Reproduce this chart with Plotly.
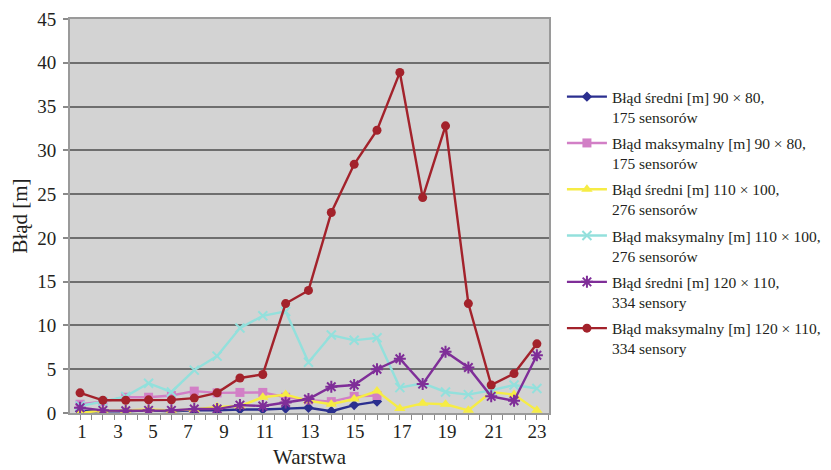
import plotly.graph_objects as go

layers = list(range(1, 22))
tick_labels = ["1", "3", "5", "7", "9", "11", "13", "15", "17", "19", "21", "23"]

mean_90x80 = [0.2, 0.2, 0.2, 0.3, 0.2, 0.3, 0.3, 0.4, 0.4, 0.5, 0.6, 0.2, 0.9, 1.3]
max_90x80 = [1.0, 1.3, 1.8, 1.8, 2.0, 2.5, 2.3, 2.35, 2.35, 1.8, 1.5, 1.3, 1.9, 2.0]
mean_110x100 = [0.0, 0.3, 0.3, 0.4, 0.3, 0.4, 0.7, 0.8, 1.8, 2.1, 1.4, 1.0, 1.6, 2.5,
                0.5, 1.1, 1.0, 0.3, 2.4, 2.1, 0.3]
max_110x100 = [0.8, 1.3, 1.9, 3.4, 2.4, 4.9, 6.5, 9.7, 11.1, 11.6, 5.8, 8.9, 8.3, 8.6,
               2.9, 3.4, 2.4, 2.1, 2.6, 3.2, 2.8]
mean_120x110 = [0.6, 0.3, 0.25, 0.3, 0.3, 0.45, 0.45, 0.9, 0.8, 1.2, 1.6, 3.0, 3.2, 5.0,
                6.2, 3.3, 7.0, 5.2, 1.9, 1.4, 6.6]
max_120x110 = [2.3, 1.45, 1.45, 1.5, 1.5, 1.7, 2.3, 4.0, 4.4, 12.5, 14.0, 22.9, 28.4, 32.3,
               38.9, 24.6, 32.8, 12.5, 3.2, 4.5, 7.9]

names = [
    "Błąd średni [m] 90 × 80,<br>175 sensorów",
    "Błąd maksymalny [m] 90 × 80,<br>175 sensorów",
    "Błąd średni [m] 110 × 100,<br>276 sensorów",
    "Błąd maksymalny [m] 110 × 100,<br>276 sensorów",
    "Błąd średni [m] 120 × 110,<br>334 sensory",
    "Błąd maksymalny [m] 120 × 110,<br>334 sensory",
]

series = [mean_90x80, max_90x80, mean_110x100, max_110x100, mean_120x110, max_120x110]
colors = ["#2b2f8f", "#d27fc6", "#f6ec45", "#93e0dc", "#7f2e98", "#a3222b"]
symbols = ["diamond", "square", "triangle-up", "x-thin-open", "asterisk-open", "circle"]
sizes = [8, 9, 10, 9, 10, 9]

fig = go.Figure()
for i, (vals, name) in enumerate(zip(series, names)):
    fig.add_trace(go.Scatter(
        x=layers[:len(vals)], y=vals, name=name, mode="lines+markers",
        legendgroup=f"g{i}",
        line=dict(color=colors[i], width=2.4),
        marker=dict(symbol=symbols[i], size=sizes[i], color=colors[i],
                    line=dict(color=colors[i], width=2 if "open" in symbols[i] else 0)),
    ))

tick_pos = [1.09, 2.66, 4.19, 5.73, 7.30, 9.09, 11.07, 13.04, 15.09, 17.06, 19.12, 21.0]

font_family = "Liberation Serif, Times New Roman, serif"
fig.update_layout(
    width=831, height=470,
    margin=dict(l=62, r=290, t=11, b=65, autoexpand=False),
    paper_bgcolor="white", plot_bgcolor="#d3d3d3",
    font=dict(family=font_family, color="#231f20"),
    showlegend=True,
    legend=dict(x=1.027, y=0.845, xanchor="left", yanchor="top",
                font=dict(size=15.5, family=font_family, color="#231f20"),
                valign="top", tracegroupgap=3, itemwidth=40,
                bgcolor="rgba(0,0,0,0)"),
    xaxis=dict(range=[0.56, 21.53], tickmode="array", tickvals=tick_pos, ticktext=tick_labels,
               ticks="", showgrid=False, zeroline=False, automargin=False,
               showline=True, linecolor="#9a9a9a", linewidth=2, mirror=True,
               tickfont=dict(size=19),
               minor=dict(ticks="outside", tickmode="linear", tick0=0.5, dtick=0.5,
                          ticklen=5, tickcolor="#8a8a8a", tickwidth=1, showgrid=False),
               title=dict(text="Warstwa", font=dict(size=21), standoff=9)),
    yaxis=dict(range=[0, 45], tickmode="linear", tick0=0, dtick=5,
               ticks="outside", ticklen=5, tickcolor="#8a8a8a", tickwidth=2,
               showgrid=True, gridcolor="#6e6e6e", gridwidth=2, zeroline=False,
               showline=True, linecolor="#9a9a9a", linewidth=2, mirror=True,
               automargin=False, ticklabelstandoff=3,
               tickfont=dict(size=19),
               title=dict(text="Błąd [m]", font=dict(size=21), standoff=6)),
)

fig.write_html("out.html")
